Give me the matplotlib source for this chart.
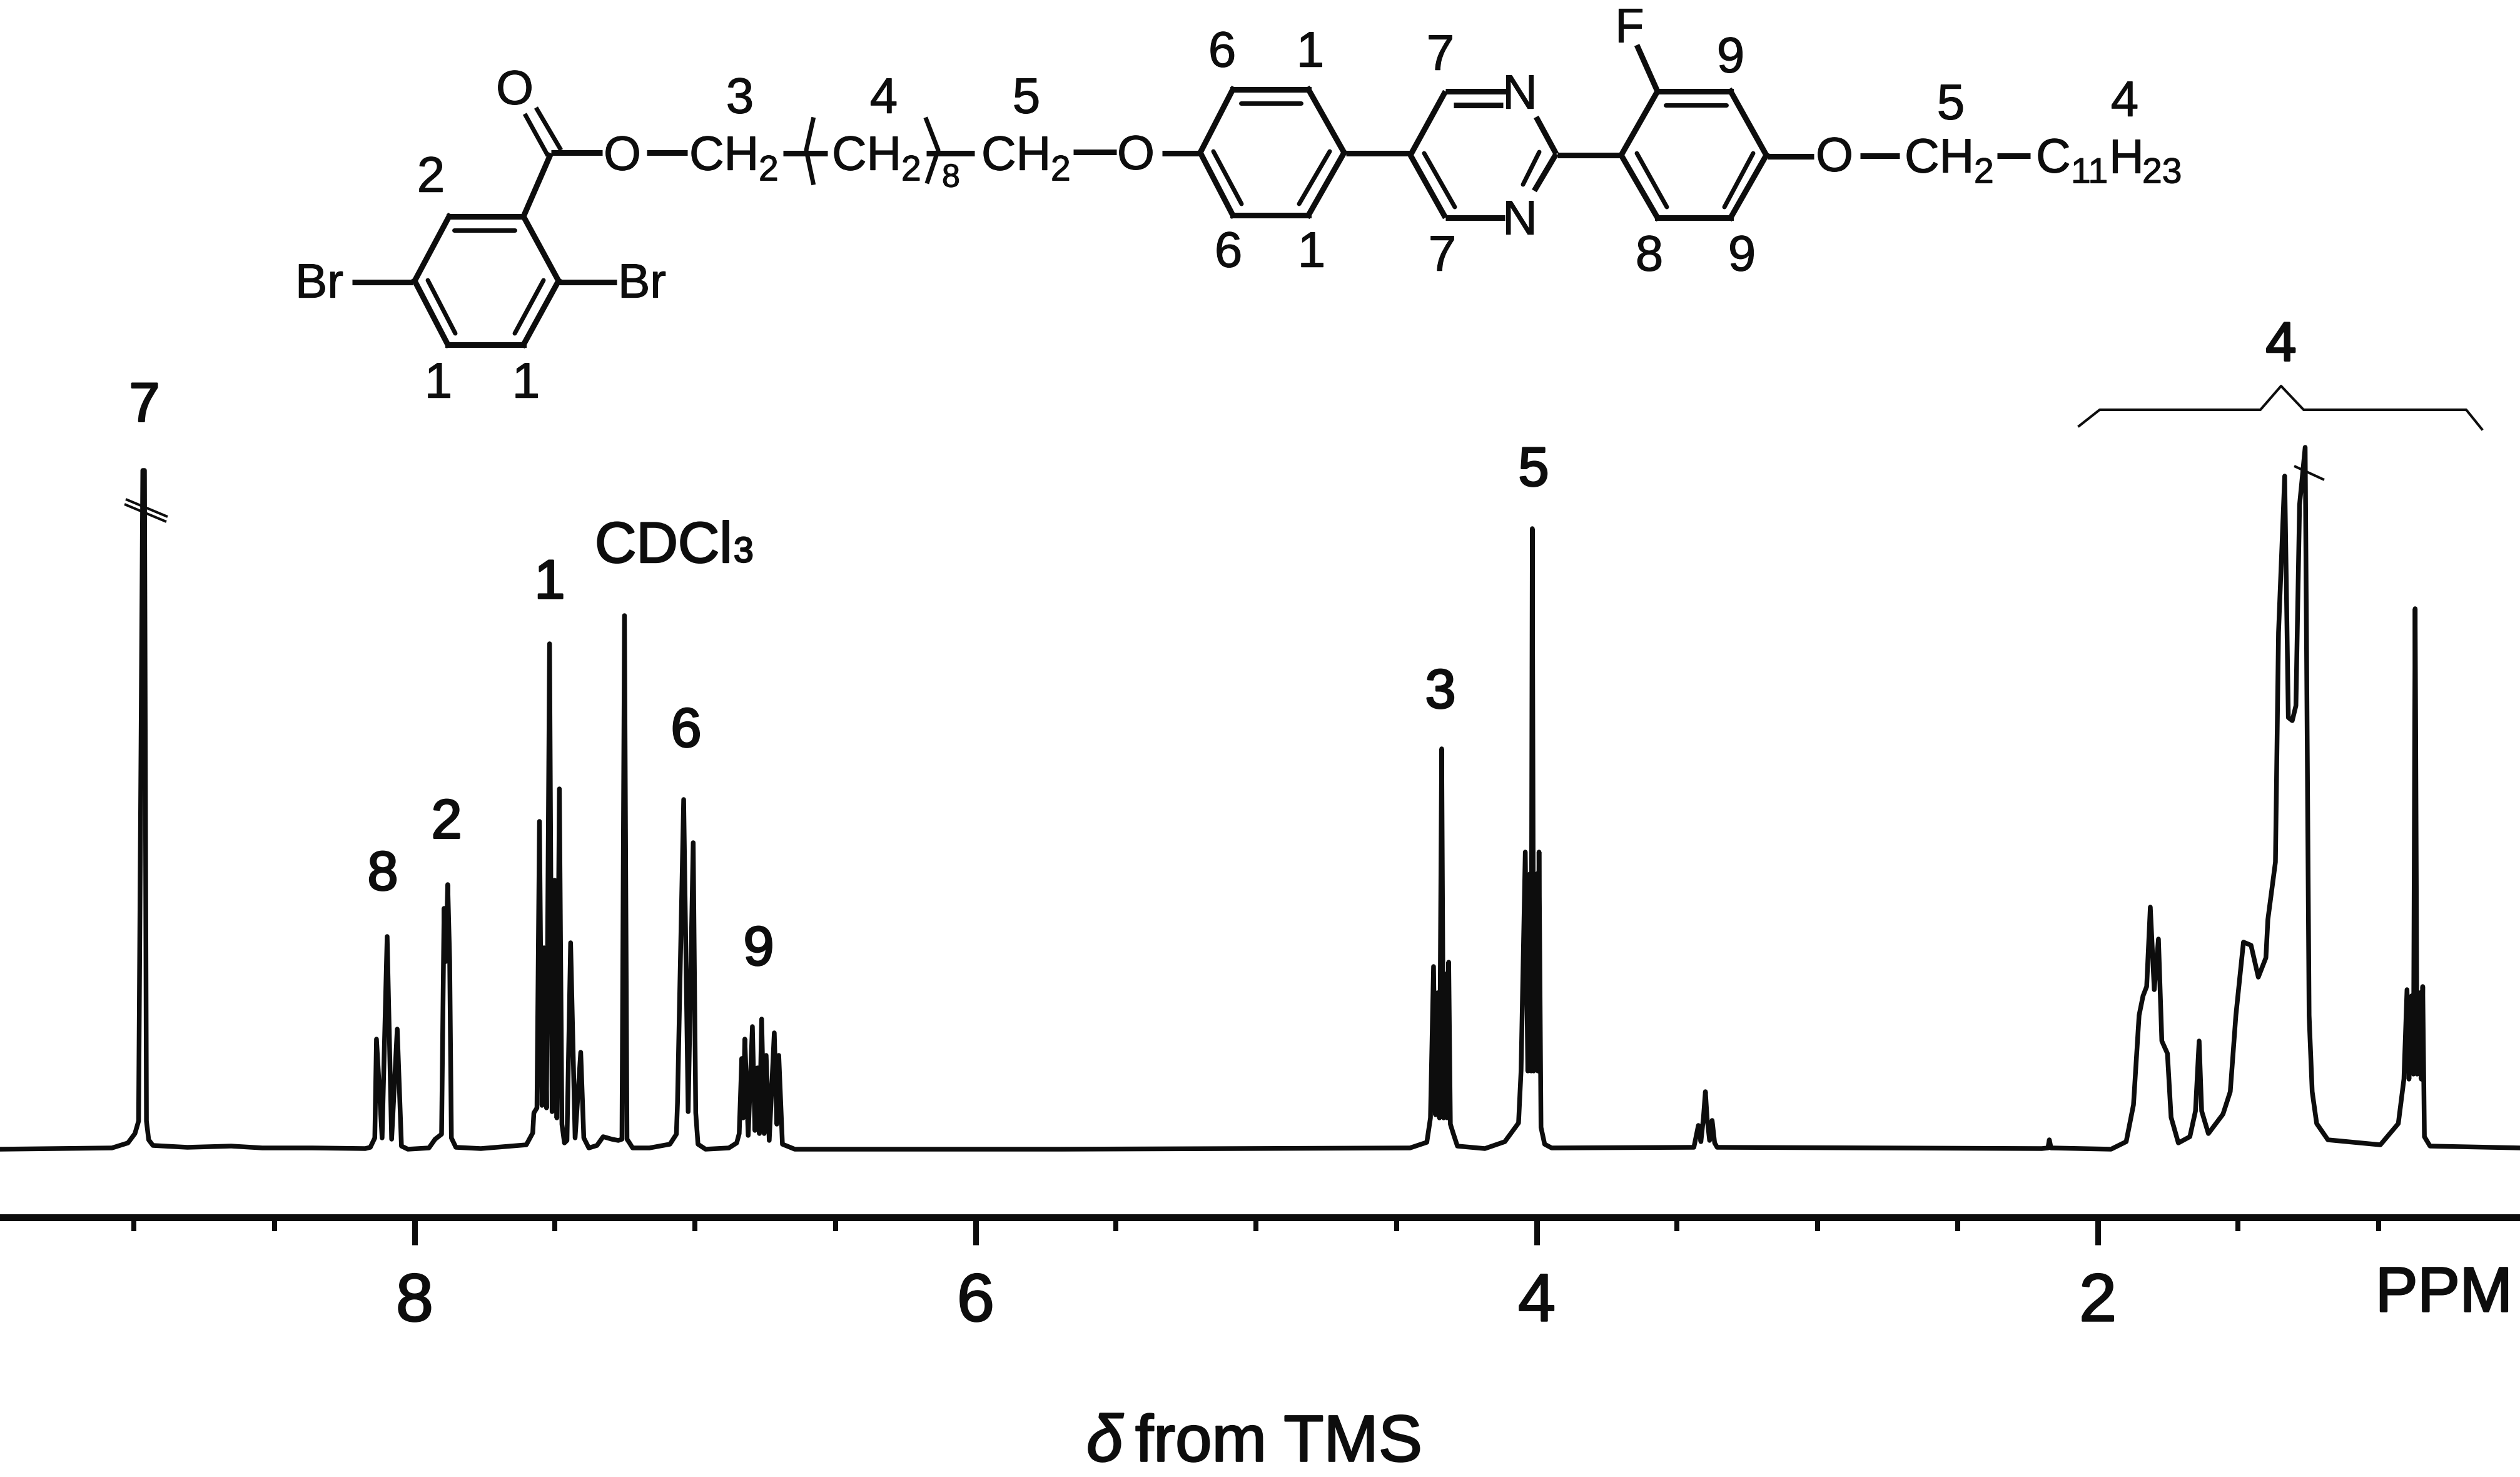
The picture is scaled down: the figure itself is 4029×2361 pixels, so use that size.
import matplotlib
matplotlib.use("Agg")
import matplotlib.pyplot as plt
import matplotlib.patheffects as pe
from matplotlib.ticker import FixedLocator, NullFormatter

plt.rcParams['font.family'] = ['Liberation Sans', 'DejaVu Sans']

# ---------- data ----------
spectrum_ppm = [
    9.478, 9.079, 9.022, 8.997, 8.984, 8.969, 8.963, 8.956, 8.948, 8.933, 8.810, 8.654, 8.543, 8.365, 8.176,
    8.158, 8.142, 8.136, 8.116, 8.098, 8.082, 8.062, 8.047, 8.024, 7.949, 7.927, 7.904, 7.895, 7.889, 7.882,
    7.875, 7.869, 7.853, 7.764, 7.602, 7.579, 7.575, 7.564, 7.555, 7.546, 7.539, 7.530, 7.519, 7.510, 7.501,
    7.493, 7.484, 7.475, 7.466, 7.457, 7.444, 7.428, 7.408, 7.397, 7.379, 7.350, 7.328, 7.297, 7.274, 7.261,
    7.252, 7.243, 7.234, 7.223, 7.163, 7.090, 7.067, 7.063, 7.041, 7.025, 7.007, 6.998, 6.990, 6.963, 6.880,
    6.852, 6.843, 6.834, 6.829, 6.823, 6.811, 6.796, 6.787, 6.778, 6.771, 6.763, 6.754, 6.747, 6.736, 6.718,
    6.709, 6.702, 6.689, 6.645, 5.694, 4.452, 4.392, 4.379, 4.368, 4.361, 4.354, 4.347, 4.339, 4.332, 4.325,
    4.319, 4.314, 4.308, 4.299, 4.283, 4.185, 4.114, 4.065, 4.056, 4.041, 4.032, 4.025, 4.020, 4.016, 4.011,
    4.000, 3.996, 3.992, 3.985, 3.972, 3.947, 3.440, 3.424, 3.415, 3.406, 3.399, 3.393, 3.384, 3.375, 3.366,
    3.357, 2.200, 2.178, 2.173, 2.167, 1.953, 1.899, 1.873, 1.853, 1.839, 1.826, 1.813, 1.799, 1.784, 1.772,
    1.752, 1.739, 1.713, 1.672, 1.652, 1.639, 1.630, 1.606, 1.554, 1.528, 1.508, 1.481, 1.454, 1.428, 1.401,
    1.394, 1.367, 1.356, 1.334, 1.321, 1.307, 1.294, 1.281, 1.261, 1.247, 1.236, 1.220, 1.180, 0.993, 0.929,
    0.909, 0.898, 0.891, 0.882, 0.875, 0.869, 0.862, 0.853, 0.847, 0.842, 0.836, 0.816, 0.493,
]
spectrum_intensity = [
    0, 2, 10, 25, 45, 1085, 1085, 45, 15, 6, 3, 5, 2, 2, 1,
    3, 18, 176, 18, 340, 16, 192, 5, 0, 2, 16, 24, 385, 300, 423,
    300, 18, 3, 1, 7, 26, 58, 66, 524, 70, 322, 66, 808, 60, 430,
    50, 576, 40, 10, 14, 330, 18, 155, 18, 2, 6, 20, 16, 14, 16,
    853, 16, 10, 2, 2, 8, 24, 74, 559, 60, 490, 58, 8, 0, 2,
    10, 25, 145, 50, 176, 22, 196, 30, 130, 25, 208, 25, 150, 14, 186,
    40, 150, 8, 0, 0, 2, 11, 50, 292, 55, 250, 50, 640, 50, 280,
    50, 299, 40, 27, 5, 1, 12, 42, 126, 475, 125, 440, 125, 992, 125,
    440, 125, 475, 35, 8, 2, 3, 38, 12, 50, 92, 50, 14, 46, 10,
    3, 1, 2, 15, 2, 0, 12, 71, 214, 245, 260, 387, 255, 336, 173,
    153, 51, 10, 20, 61, 173, 61, 25, 56, 92, 214, 331, 326, 275, 306,
    367, 459, 826, 1076, 690, 685, 709, 1030, 1122, 214, 92, 41, 15, 7, 41,
    112, 255, 112, 245, 120, 864, 120, 250, 112, 260, 20, 5, 2,
]
major_ticks = [8, 6, 4, 2]
minor_ticks = [9.0, 8.5, 7.5, 7.0, 6.5, 5.5, 5.0, 4.5, 3.5, 3.0, 2.5, 1.5, 1.0]
major_labels = ['8', '6', '4', '2']
peak_labels = ['7', '8', '2', '1', '6', '9', '3', '5', '4']


def pt(px):
    return px * 0.72


INK = '#0d0d0d'
fig = plt.figure(figsize=(40.30, 23.61), dpi=100, facecolor='white')
ax = fig.add_axes([0, 0, 1, 1])
ax.set_xlim(9.478, 0.493)
ax.set_ylim(-524, 1837)
ax.plot(spectrum_ppm, spectrum_intensity, color=INK, lw=pt(7.5), solid_joinstyle='round')
for s in ('top', 'left', 'right'):
    ax.spines[s].set_visible(False)
ax.spines['bottom'].set_position(('data', -108.5))
ax.spines['bottom'].set_linewidth(pt(11))
ax.spines['bottom'].set_color(INK)
ax.set_yticks([])
ax.set_xticks(major_ticks)
ax.set_xticklabels(major_labels)
ax.xaxis.set_minor_locator(FixedLocator(minor_ticks))
ax.xaxis.set_minor_formatter(NullFormatter())
ax.tick_params(axis='x', which='major', length=pt(44), width=pt(9), color=INK, pad=pt(44),
               labelsize=pt(108), labelcolor=INK)
ax.tick_params(axis='x', which='minor', length=pt(22), width=pt(8), color=INK)
for t in ax.get_xticklabels():
    t.set_path_effects([pe.withStroke(linewidth=pt(2.5), foreground=INK)])

# ---------- overlay in image pixels for annotations and the structure ----------
ov = fig.add_axes([0, 0, 1, 1], facecolor='none')
ov.set_xlim(0, 4030)
ov.set_ylim(2361, 0)
ov.set_axis_off()


def label(x, yc, s, size=80, ha='center', stroke=1.2, style='normal'):
    t = ov.text(x, yc + 0.358 * size, s, fontsize=pt(size), ha=ha, va='baseline',
                color=INK, fontstyle=style)
    t.set_path_effects([pe.withStroke(linewidth=pt(stroke), foreground=INK)])
    return t


def seg(p, q, w=9, cap='butt'):
    ov.plot([p[0], q[0]], [p[1], q[1]], color=INK, lw=pt(w), solid_capstyle=cap)


def group(x, yc, main, sub, size=77, subsize=57, advance=111):
    label(x, yc, main, size=size, ha='left')
    label(x + advance, yc + 24, sub, size=subsize, ha='left')


def ring(verts, inner):
    for i in range(6):
        seg(verts[i], verts[(i + 1) % 6], w=9, cap='projecting')
    for a, b in inner:
        seg(a, b, w=7, cap='round')


# peak labels
peak_xy = [(231, 642), (612, 1391), (714, 1308), (879, 925), (1097, 1162), (1213, 1511),
           (2303, 1100), (2452, 745), (3647, 545)]
for (x, y), s in zip(peak_xy, peak_labels):
    label(x, y, s, size=88, stroke=3)
label(951, 866, 'CDCl', size=92, ha='left', stroke=2.5)
label(1173, 878, '3', size=57, ha='left', stroke=2.5)

# integral brace and truncation marks
ov.plot([3324, 3357, 3614, 3647, 3683, 3943, 3968], [681, 655, 655, 617, 655, 655, 686],
        color=INK, lw=pt(4))
seg((201, 798), (268, 826), w=4)
seg((199, 806), (266, 834), w=4)
seg((3668, 745), (3716, 767), w=4)

# axis captions
label(3798, 2060, 'PPM', size=101, ha='left', stroke=3)
label(1737, 2298, 'δ', size=105, ha='left', style='italic', stroke=2.5)
label(1815, 2298, 'from TMS', size=105, ha='left', stroke=2.5)

# ---------- molecular structure ----------
ring([(718, 346), (837, 346), (893, 449), (837, 551), (716, 551), (663, 449)],
     [((726, 368), (823, 368)), ((684, 448), (728, 533)), ((869, 448), (823, 533))])
seg((837, 346), (881, 245))
seg((857, 172), (897, 240), w=7)
seg((839, 182), (876, 249), w=7)
seg((881, 244), (963, 244))
seg((1034, 244), (1099, 244))
seg((1252, 245), (1323, 245))
seg((1481, 245), (1558, 245))
seg((1716, 243), (1785, 243))
seg((1858, 245), (1917, 245))
seg((563, 451), (660, 451))
seg((893, 451), (986, 451))
ov.plot([1300, 1289, 1300], [191, 240, 292], color=INK, lw=pt(7))
ov.plot([1481, 1500, 1483], [191, 240, 290], color=INK, lw=pt(7))

ring([(1919, 244), (1971, 143), (2092, 143), (2149, 244), (2092, 344), (1971, 344)],
     [((1984, 165), (2080, 165)), ((1940, 242), (1985, 326)), ((2126, 242), (2077, 326))])
seg((2152, 245), (2255, 245))

# pyrimidine
seg((2255, 248), (2311, 146))
seg((2311, 146), (2408, 146))
seg((2324, 168), (2403, 168))
seg((2456, 187), (2488, 246))
seg((2488, 246), (2453, 305))
seg((2461, 243), (2435, 295), w=7, cap='round')
seg((2255, 248), (2311, 348))
seg((2311, 348), (2406, 348))
seg((2277, 245), (2326, 331), w=7, cap='round')
seg((2490, 248), (2592, 248))

ring([(2592, 248), (2650, 146), (2767, 146), (2824, 248), (2767, 348), (2650, 348)],
     [((2663, 168), (2760, 168)), ((2617, 245), (2665, 331)), ((2803, 245), (2757, 331))])
seg((2617, 72), (2650, 146))
seg((2826, 250), (2900, 250))
seg((2974, 249), (3037, 249))
seg((3193, 249), (3246, 249))

# atoms
for x, y, s in [(823, 139, 'O'), (995, 244, 'O'), (1816, 243, 'O'), (2933, 246, 'O'),
                (2430, 146, 'N'), (2430, 347, 'N'), (2605, 39, 'F')]:
    label(x, y, s, size=77)
label(472, 448, 'Br', size=77, ha='left')
label(988, 448, 'Br', size=77, ha='left')
group(1102, 244, 'CH', '2')
group(1330, 244, 'CH', '2')
group(1569, 244, 'CH', '2')
group(3045, 248, 'CH', '2')
label(1506, 280, '8', size=52, ha='left')
label(3255, 248, 'C', size=77, ha='left')
label(3311, 272, '11', size=57, ha='left')
label(3372, 248, 'H', size=77, ha='left')
label(3425, 272, '23', size=57, ha='left')

# position numbers on the structure
for x, y, s in [(689, 278, '2'), (1183, 152, '3'), (1413, 152, '4'), (1641, 152, '5'),
                (1954, 78, '6'), (2095, 78, '1'), (2303, 83, '7'), (2767, 87, '9'),
                (3119, 162, '5'), (3397, 157, '4'), (1964, 398, '6'), (2097, 398, '1'),
                (2306, 404, '7'), (2637, 404, '8'), (2785, 404, '9'), (701, 607, '1'), (841, 607, '1')]:
    label(x, y, s, size=80)

fig.savefig('out.png', dpi=100, facecolor='white')
